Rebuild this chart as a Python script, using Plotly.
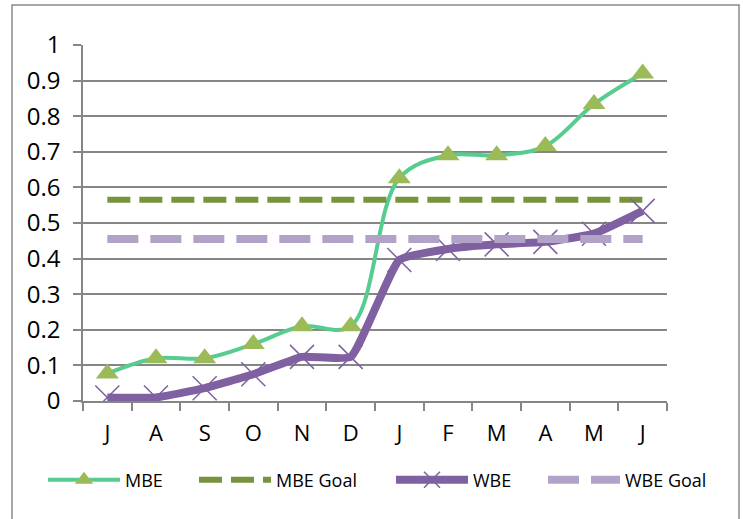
import plotly.graph_objects as go

months = ["J", "A", "S", "O", "N", "D", "J", "F", "M", "A", "M", "J"]
mbe = [0.077, 0.12, 0.12, 0.16, 0.21, 0.21, 0.626, 0.69, 0.69, 0.716, 0.834, 0.92]
mbe_goal = [0.565] * 12
wbe = [0.01, 0.01, 0.036, 0.075, 0.124, 0.124, 0.396, 0.427, 0.44, 0.447, 0.47, 0.534]
wbe_goal = [0.455] * 12
yticks = [0, 0.1, 0.2, 0.3, 0.4, 0.5, 0.6, 0.7, 0.8, 0.9, 1]

x = list(range(len(months)))
FONT = "Open Sans"
W, H = 743, 519
PL, PT, PW, PH = 83, 45, 584, 356

fig = go.Figure()
fig.add_trace(go.Scatter(
    x=x, y=mbe, name="MBE", mode="lines+markers", legend="legend",
    line=dict(color="#57cc8f", width=4, shape="spline", smoothing=1),
    marker=dict(symbol="triangle-up", size=20, color="#9bbb59"),
))
fig.add_trace(go.Scatter(
    x=x, y=mbe_goal, name="MBE Goal", mode="lines", legend="legend2",
    line=dict(color="#77933c", width=6, dash="23px,9px"),
))
fig.add_trace(go.Scatter(
    x=x, y=wbe, name="WBE", mode="lines+markers", legend="legend3",
    line=dict(color="#7f60a1", width=8, shape="spline", smoothing=0.4),
    marker=dict(symbol="x-thin", size=24, color="#7f60a1",
                line=dict(color="#7f60a1", width=1.5)),
))
fig.add_trace(go.Scatter(
    x=x, y=wbe_goal, name="WBE Goal", mode="lines", legend="legend4",
    line=dict(color="#b3a2c7", width=8, dash="31px,12px"),
))

# outer chart border
fig.add_shape(type="rect", xref="paper", yref="paper",
              x0=(12 - PL) / PW, x1=(739 - PL) / PW,
              y0=(PT + PH - 530) / PH, y1=(PT + PH - 5) / PH,
              line=dict(color="#8a8a8a", width=1.5), layer="below")


def leg(px):
    return dict(orientation="h", xref="container", yref="container",
                x=(px - 5) / W, xanchor="left", y=1 - 480 / H, yanchor="middle",
                font=dict(size=18, family=FONT), itemwidth=72,
                bgcolor="rgba(0,0,0,0)")


fig.update_layout(
    width=W, height=H,
    margin=dict(l=PL, r=W - PL - PW, t=PT, b=H - PT - PH),
    paper_bgcolor="white", plot_bgcolor="white",
    font=dict(family=FONT, color="black"),
    showlegend=True,
    legend=leg(48), legend2=leg(199), legend3=leg(396), legend4=leg(548),
)
fig.update_xaxes(
    range=[-0.5, 11.5], tickmode="array", tickvals=x, ticktext=months,
    ticks="", showgrid=False, showline=True, linecolor="#868686", linewidth=1.5,
    tickfont=dict(size=22, family=FONT), ticklabelstandoff=12,
    minor=dict(tick0=-0.5, dtick=1, ticks="outside", ticklen=8,
               tickcolor="#868686", tickwidth=1.5, showgrid=False),
    zeroline=False,
)
fig.update_yaxes(
    range=[0, 1], tickmode="array", tickvals=yticks,
    ticktext=[f"{v:g}" for v in yticks],
    ticks="outside", ticklen=8, tickcolor="#868686", tickwidth=1.5,
    showgrid=True, gridcolor="#868686", gridwidth=1.5,
    showline=True, linecolor="#868686", linewidth=1.5,
    tickfont=dict(size=24, family=FONT), ticklabelstandoff=8, zeroline=False,
)

fig.write_html(
    "out.html",
    config={"displayModeBar": False},
    post_script="document.body.style.margin='0';document.body.style.overflow='hidden';",
)
